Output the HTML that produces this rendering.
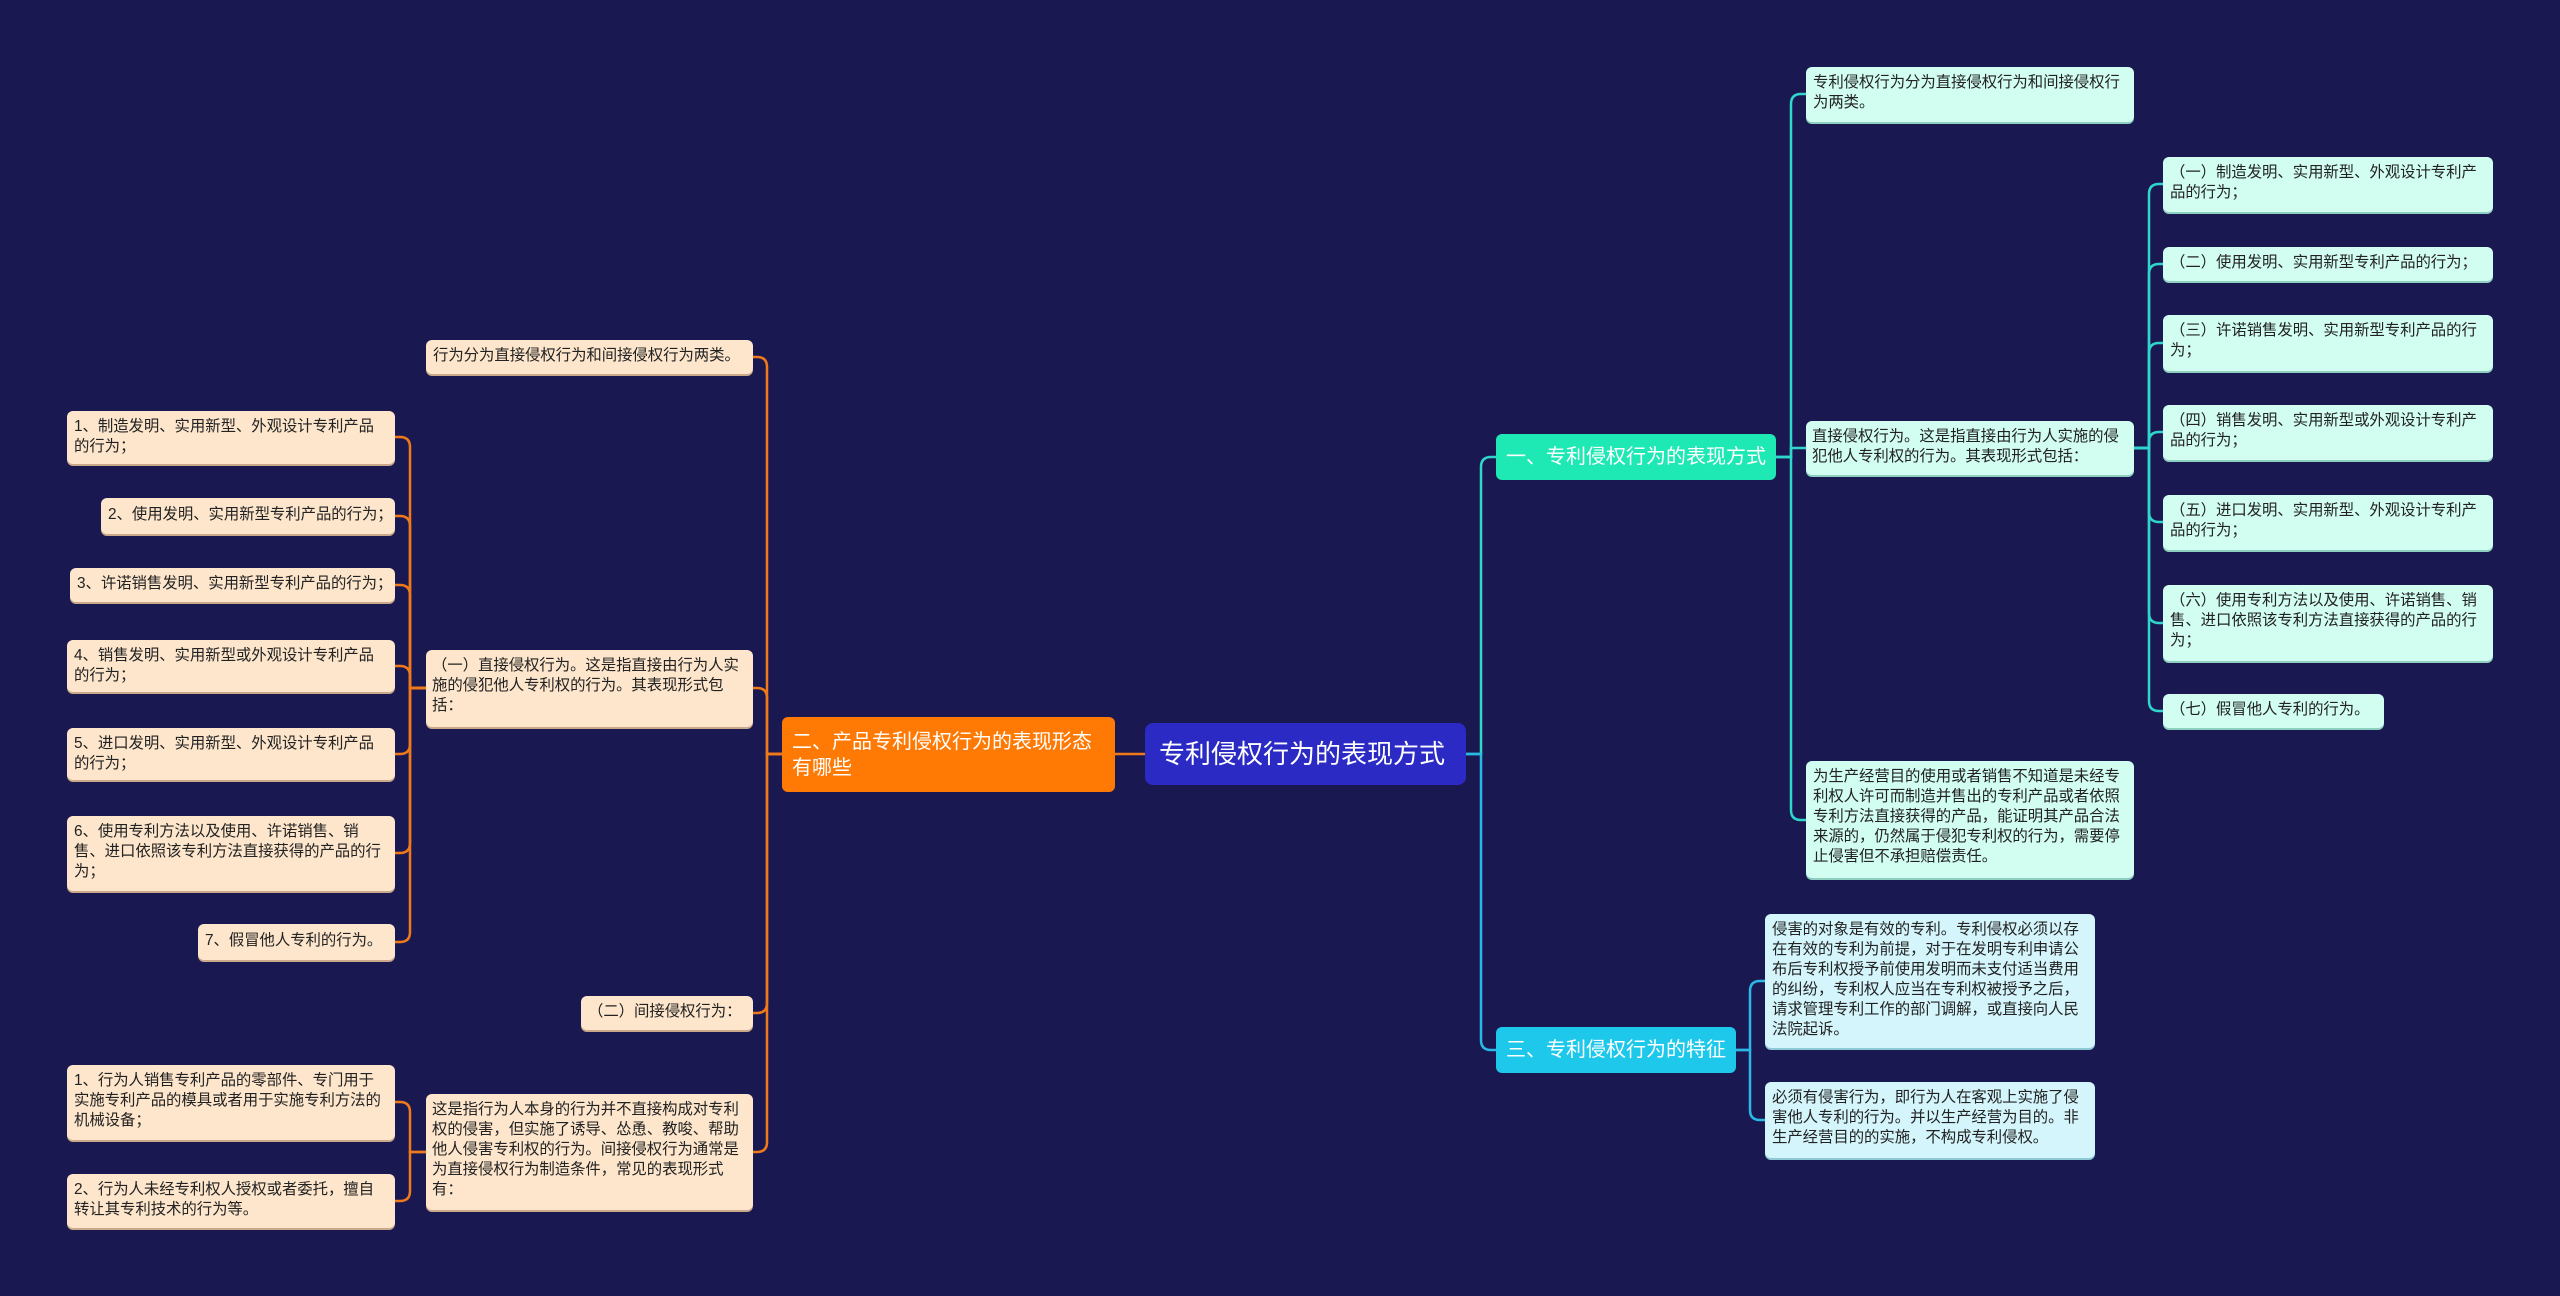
<!DOCTYPE html>
<html><head><meta charset="utf-8">
<style>
html,body{margin:0;padding:0}
body{width:2560px;height:1296px;background:#1a1850;position:relative;overflow:hidden;font-family:"Liberation Sans","Noto Sans CJK SC",sans-serif}
.n{position:absolute;box-sizing:border-box;border-radius:6px;font-size:15.4px;line-height:20px;padding:6px 6px 4px 7px;color:#222;overflow:hidden;word-break:break-all;letter-spacing:-0.05px}
.o{background:#fde6cc;box-shadow:0 2px 0 #c9a98a}
.c{background:#d2fdf1;box-shadow:0 2px 0 #8ecfc0}
.f{background:#d3f5fb;box-shadow:0 2px 0 #8ec9d6}
.t{padding-right:1px;padding-left:6px}
svg{position:absolute;left:0;top:0}
</style></head><body>
<svg id="s" width="2560" height="1296"></svg>

<div class="n" style="left:1145px;top:723px;width:321px;height:62px;background:#2b2ac4;color:#fff;font-size:26px;line-height:62px;padding:0 0 0 14px;border-radius:8px;letter-spacing:0">专利侵权行为的表现方式</div>
<div class="n" style="left:782px;top:717px;width:333px;height:75px;background:#ff7a05;color:#fff;font-size:20px;line-height:26px;padding:12px 10px;letter-spacing:0">二、产品专利侵权行为的表现形态有哪些</div>
<div class="n" style="left:1496px;top:434px;width:280px;height:46px;background:#1ee8b4;color:#fff;font-size:20px;line-height:46px;padding:0 0 0 10px;letter-spacing:0">一、专利侵权行为的表现方式</div>
<div class="n" style="left:1496px;top:1027px;width:240px;height:46px;background:#1ec8ea;color:#fff;font-size:20px;line-height:46px;padding:0 0 0 10px;letter-spacing:0">三、专利侵权行为的特征</div>

<div class="n c" style="left:1806px;top:67px;width:328px;height:55px">专利侵权行为分为直接侵权行为和间接侵权行为两类。</div>
<div class="n c t" style="left:1806px;top:421px;width:328px;height:54px">直接侵权行为。这是指直接由行为人实施的侵犯他人专利权的行为。其表现形式包括：</div>
<div class="n c" style="left:1806px;top:761px;width:328px;height:117px">为生产经营目的使用或者销售不知道是未经专利权人许可而制造并售出的专利产品或者依照专利方法直接获得的产品，能证明其产品合法来源的，仍然属于侵犯专利权的行为，需要停止侵害但不承担赔偿责任。</div>

<div class="n c" style="left:2163px;top:157px;width:330px;height:55px">（一）制造发明、实用新型、外观设计专利产品的行为；</div>
<div class="n c" style="left:2163px;top:247px;width:330px;height:34px">（二）使用发明、实用新型专利产品的行为；</div>
<div class="n c" style="left:2163px;top:315px;width:330px;height:56px">（三）许诺销售发明、实用新型专利产品的行为；</div>
<div class="n c" style="left:2163px;top:405px;width:330px;height:55px">（四）销售发明、实用新型或外观设计专利产品的行为；</div>
<div class="n c" style="left:2163px;top:495px;width:330px;height:55px">（五）进口发明、实用新型、外观设计专利产品的行为；</div>
<div class="n c" style="left:2163px;top:585px;width:330px;height:76px">（六）使用专利方法以及使用、许诺销售、销售、进口依照该专利方法直接获得的产品的行为；</div>
<div class="n c" style="left:2163px;top:694px;width:221px;height:34px">（七）假冒他人专利的行为。</div>

<div class="n f" style="left:1765px;top:914px;width:330px;height:134px">侵害的对象是有效的专利。专利侵权必须以存在有效的专利为前提，对于在发明专利申请公布后专利权授予前使用发明而未支付适当费用的纠纷，专利权人应当在专利权被授予之后，请求管理专利工作的部门调解，或直接向人民法院起诉。</div>
<div class="n f" style="left:1765px;top:1082px;width:330px;height:76px">必须有侵害行为，即行为人在客观上实施了侵害他人专利的行为。并以生产经营为目的。非生产经营目的的实施，不构成专利侵权。</div>

<div class="n o" style="left:426px;top:340px;width:327px;height:34px">行为分为直接侵权行为和间接侵权行为两类。</div>
<div class="n o t" style="left:426px;top:650px;width:327px;height:77px">（一）直接侵权行为。这是指直接由行为人实施的侵犯他人专利权的行为。其表现形式包括：</div>
<div class="n o" style="left:581px;top:996px;width:172px;height:34px">（二）间接侵权行为：</div>
<div class="n o t" style="left:426px;top:1094px;width:327px;height:116px">这是指行为人本身的行为并不直接构成对专利权的侵害，但实施了诱导、怂恿、教唆、帮助他人侵害专利权的行为。间接侵权行为通常是为直接侵权行为制造条件，常见的表现形式有：</div>

<div class="n o" style="left:67px;top:411px;width:328px;height:53px">1、制造发明、实用新型、外观设计专利产品的行为；</div>
<div class="n o" style="left:101px;top:498px;width:294px;height:36px;white-space:nowrap;padding-top:7px">2、使用发明、实用新型专利产品的行为；</div>
<div class="n o" style="left:70px;top:568px;width:325px;height:34px;white-space:nowrap">3、许诺销售发明、实用新型专利产品的行为；</div>
<div class="n o" style="left:67px;top:640px;width:328px;height:52px">4、销售发明、实用新型或外观设计专利产品的行为；</div>
<div class="n o" style="left:67px;top:728px;width:328px;height:52px">5、进口发明、实用新型、外观设计专利产品的行为；</div>
<div class="n o" style="left:67px;top:816px;width:328px;height:75px">6、使用专利方法以及使用、许诺销售、销售、进口依照该专利方法直接获得的产品的行为；</div>
<div class="n o" style="left:198px;top:924px;width:197px;height:36px;padding-top:7px">7、假冒他人专利的行为。</div>
<div class="n o" style="left:67px;top:1065px;width:328px;height:75px">1、行为人销售专利产品的零部件、专门用于实施专利产品的模具或者用于实施专利方法的机械设备；</div>
<div class="n o" style="left:67px;top:1174px;width:328px;height:54px">2、行为人未经专利权人授权或者委托，擅自转让其专利技术的行为等。</div>

<script>
var s=document.getElementById('s'),h='';
function con(px,py,sx,cx,cys,col){
  cys.forEach(function(cy){
    var r=10,d=cy>py?1:-1,dir=cx>sx?1:-1;
    var p;
    if(Math.abs(cy-py)<r+1){p='M'+px+' '+py+' L'+sx+' '+py+' L'+sx+' '+cy+' L'+cx+' '+cy;}
    else p='M'+px+' '+py+' L'+sx+' '+py+' L'+sx+' '+(cy-d*r)+' Q'+sx+' '+cy+' '+(sx+dir*r)+' '+cy+' L'+cx+' '+cy;
    h+='<path d="'+p+'" fill="none" stroke="'+col+'" stroke-width="2.5"/>';
  });
}
var O='#f07a1a',C='#2fd6cc',B='#2ab8e6';
con(1466,754,1481,1496,[457],C);
con(1466,754,1481,1496,[1050],B);
con(1145,754,1130,1115,[754],O);
con(1776,457,1791,1806,[94,448,820],C);
con(2134,448,2149,2163,[184,264,343,432,522,623,711],C);
con(1736,1050,1750,1765,[981,1120],B);
con(782,754,767,753,[357,688,1013,1152],O);
con(426,688,410,395,[437,516,585,666,754,853,942],O);
con(426,1152,410,395,[1102,1201],O);
s.innerHTML=h;
</script>
</body></html>
